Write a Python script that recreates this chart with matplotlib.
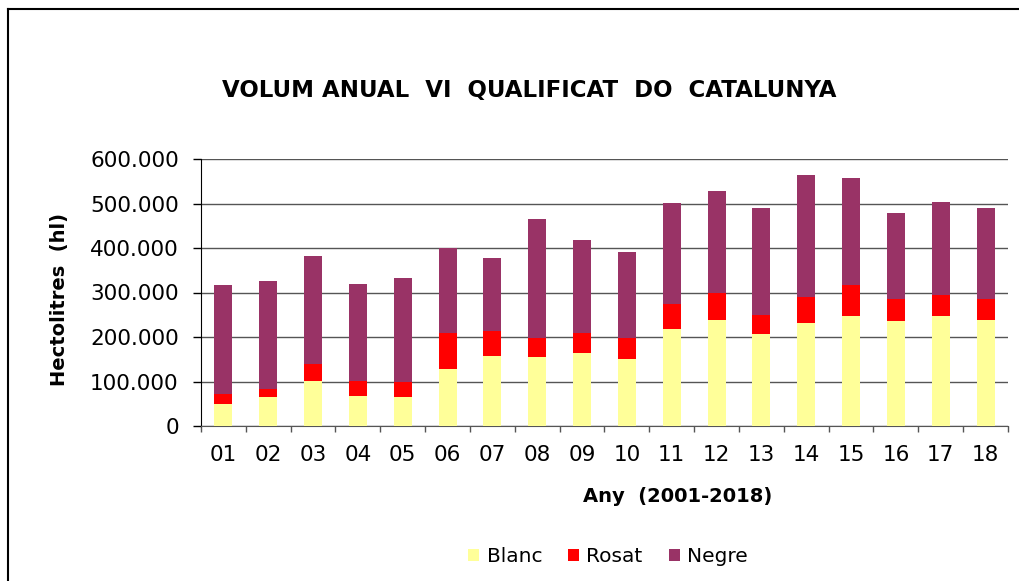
import numpy as np
import matplotlib
matplotlib.use('Agg')
import matplotlib.pyplot as plt
from matplotlib.ticker import FuncFormatter, FixedLocator
from matplotlib.lines import Line2D

anys = ['01', '02', '03', '04', '05', '06', '07', '08', '09',
        '10', '11', '12', '13', '14', '15', '16', '17', '18']

blanc = [50000, 65000, 101000, 68000, 65000, 128000, 158000, 154000, 164000,
         151000, 217000, 239000, 206000, 232000, 247000, 235000, 247000, 239000]
rosat = [23000, 18000, 38000, 33000, 33000, 80000, 56000, 43000, 45000,
         46000, 58000, 59000, 44000, 58000, 69000, 50000, 48000, 46000]
negre = [244000, 242000, 244000, 219000, 235000, 192000, 164000, 269000, 209000,
         194000, 227000, 231000, 239000, 275000, 241000, 194000, 209000, 204000]

plt.rcParams['font.family'] = 'DejaVu Sans'

W, H = 1020, 581
fig = plt.figure(figsize=(W / 100, H / 100), dpi=100)
ax = fig.add_axes([201 / W, 1 - 426 / H, (1008 - 201) / W, (426 - 159) / H])

x = np.arange(len(anys))
b = np.array(blanc)
r = np.array(rosat)
n = np.array(negre)

ax.bar(x, b, width=0.4, color='#FFFF99', label='Blanc', zorder=3)
ax.bar(x, r, width=0.4, bottom=b, color='#FF0000', label='Rosat', zorder=3)
ax.bar(x, n, width=0.4, bottom=b + r, color='#993366', label='Negre', zorder=3)

ax.set_xlim(-0.5, len(anys) - 0.5)
ax.set_ylim(0, 600000)
ax.set_yticks(np.arange(0, 600001, 100000))
ax.yaxis.set_major_formatter(FuncFormatter(lambda v, p: f"{int(v):,}".replace(',', '.')))
ax.yaxis.grid(True, color='#555555', linewidth=1.0, zorder=0)

# ticks between categories, labels centred
ax.xaxis.set_major_locator(FixedLocator(np.arange(-0.5, len(anys), 1.0)))
ax.xaxis.set_minor_locator(FixedLocator(x))
ax.set_xticklabels([], minor=False)
ax.set_xticklabels(anys, minor=True)
ax.tick_params(axis='x', which='major', direction='out', length=4, width=1, color='#555555')
ax.tick_params(axis='x', which='minor', length=0, pad=14, labelsize=15.5)
ax.tick_params(axis='y', direction='out', length=6, width=1, pad=10, labelsize=15.5)

ax.spines['top'].set_visible(False)
ax.spines['right'].set_visible(False)
ax.spines['left'].set_color('black')
ax.spines['bottom'].set_color('#555555')

fig.text(529 / W, 1 - 90 / H, 'VOLUM ANUAL  VI  QUALIFICAT  DO  CATALUNYA',
         ha='center', va='center', fontsize=16.5, fontweight='bold')
fig.text(60 / W, 1 - 299 / H, 'Hectolitres  (hl)', rotation=90,
         ha='center', va='center', fontsize=14, fontweight='bold')
fig.text(678 / W, 1 - 497 / H, 'Any  (2001-2018)',
         ha='center', va='center', fontsize=14, fontweight='bold')

fig.legend(loc='center', bbox_to_anchor=(608 / W, 1 - 557 / H), ncol=3,
           frameon=False, fontsize=14.5, handlelength=0.55, handleheight=0.55,
           handletextpad=0.35, columnspacing=1.3)

# chart frame
fig.add_artist(Line2D([8 / W, 1], [1 - 9 / H, 1 - 9 / H], color='black', lw=1.5))
fig.add_artist(Line2D([8 / W, 8 / W], [0, 1 - 9 / H], color='black', lw=1.5))

fig.savefig('out.png', dpi=100)
